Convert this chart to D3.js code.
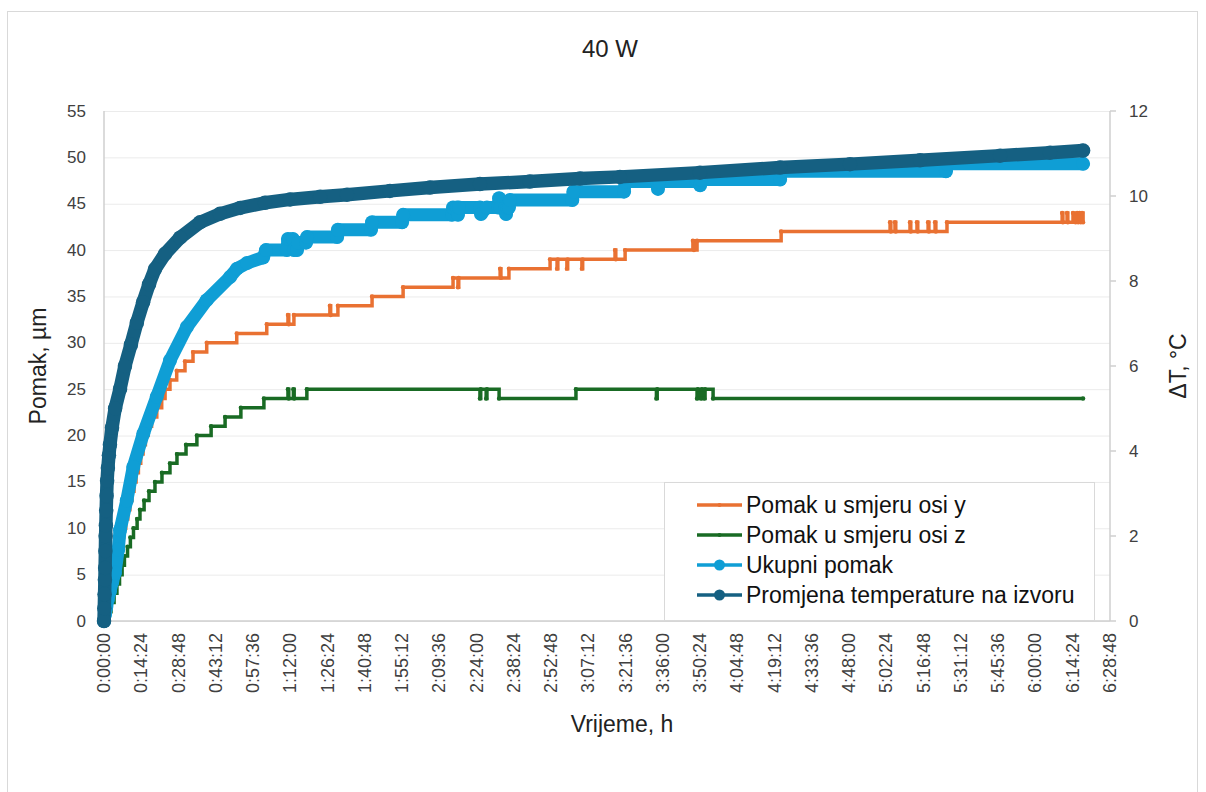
<!DOCTYPE html>
<html>
<head>
<meta charset="utf-8">
<script src="https://cdn.jsdelivr.net/npm/d3@7/dist/d3.min.js"></script>
<style>
  body { margin: 0; background: #fff; }
  svg text { font-family: "Liberation Sans", Arial, sans-serif; }
</style>
</head>
<body>
<svg id="chart" width="1206" height="792"></svg>
<script>
// time is in minutes from start
var xTicks = d3.range(0, 388.81, 14.4);
var leftTicks = d3.range(0, 56, 5);
var rightTicks = d3.range(0, 13, 2);

var seriesNames = ["Pomak u smjeru osi y", "Pomak u smjeru osi z", "Ukupni pomak", "Promjena temperature na izvoru"];

var posYTime = [0, 0.6, 1.3, 2.2, 3.2, 4.3, 5.0, 5.6, 6.2, 6.9, 7.6, 8.4, 9.2, 10.0, 10.8, 11.6, 12.4, 13.3, 14.2, 15.1, 16.0, 17.0, 18.4, 20.4, 22.3, 23.6, 25.5, 28.1, 31.3, 34.4, 39.7, 51.3, 62.9,
  71.1, 71.4, 73.4, 87.3, 87.6, 90.4, 103.6, 115.6, 134.9, 136.8, 137.1, 153.1, 153.4, 156.5, 172.4, 175.1, 175.4, 178.9, 179.2, 184.7, 185.0,
  197.5, 197.8, 201.4, 227.6, 228.0, 229.2, 261.7, 303.8, 304.1, 305.7, 306.0, 311.5, 311.8, 314.2, 314.5, 318.5, 318.8, 321.2, 321.5, 325.8,
  370.3, 370.6, 372.2, 372.5, 374.5, 375.5, 376.1, 376.5, 377.0, 377.5, 378.0, 378.4];
var posYVal = [0, 1, 2, 3, 4, 5, 6, 7, 8, 9, 10, 11, 12, 13, 14, 15, 16, 17, 18, 19, 20, 21, 22, 23, 24, 25, 26, 27, 28, 29, 30, 31, 32,
  33, 32, 33, 34, 33, 34, 35, 36, 37, 36, 37, 38, 37, 38, 39, 38, 39, 38, 39, 38, 39,
  40, 39, 40, 41, 40, 41, 42, 43, 42, 43, 42, 43, 42, 43, 42, 43, 42, 43, 42, 43,
  44, 43, 44, 43, 44, 43, 44, 43, 44, 43, 44, 43];

var posZTime = [0, 1.5, 2.7, 3.9, 5.0, 6.0, 7.0, 7.9, 9.1, 10.2, 11.4, 12.8, 13.9, 15.5, 17.4, 19.7, 22.4, 25.5, 28.2, 31.7, 35.9, 41.4, 46.8, 52.9, 61.8,
  71.1, 71.4, 73.2, 73.5, 78.4, 145.3, 145.6, 147.7, 148.0, 152.7, 182.4, 213.5, 213.8, 229.2, 229.5, 230.8, 231.1, 232.0, 232.3, 235.4, 378.4];
var posZVal = [0, 1, 2, 3, 4, 5, 6, 7, 8, 9, 10, 11, 12, 13, 14, 15, 16, 17, 18, 19, 20, 21, 22, 23, 24,
  25, 24, 25, 24, 25, 24, 25, 24, 25, 24, 25, 24, 25, 24, 25, 24, 25, 24, 25, 24, 24];

var totalTime = [0, 0.4, 0.9, 1.5, 2.3, 3.2, 4.25, 5.5, 6.2, 8.8, 11.3, 15.2, 20.4, 25.5, 32.0, 39.7, 48.7, 51.4, 55.3, 61.5, 62.6, 70.7, 71.1, 73.0, 73.4,
  74.6, 75.0, 78.1, 78.5, 90.1, 90.4, 103.2, 103.6, 115.2, 115.6, 134.5, 134.9, 136.4, 136.8, 137.2, 145.3, 145.7, 148.0, 152.3, 152.7, 153.1,
  155.0, 155.4, 155.8, 156.5, 156.9, 181.0, 181.4, 201.0, 201.4, 213.7, 214.1, 214.5, 228.8, 229.2, 230.4, 230.7, 261.3, 261.7, 325.4, 325.8, 378.4];
var totalVal = [0, 0.7, 1.5, 2.3, 3.2, 4.2, 5.2, 7.7, 9.8, 13.0, 16.6, 20.2, 24.2, 28.1, 31.7, 34.6, 37.1, 38.0, 38.6, 39.2, 40.0, 40.0, 41.2, 41.2, 40.0,
  40.0, 40.8, 40.8, 41.4, 41.4, 42.2, 42.2, 43.0, 43.0, 43.8, 43.8, 44.6, 44.6, 43.8, 44.6, 44.6, 43.9, 44.6, 44.6, 45.6, 44.6,
  44.6, 43.9, 44.6, 44.6, 45.4, 45.4, 46.3, 46.3, 47.4, 47.4, 46.6, 47.4, 47.4, 47.6, 47.0, 47.6, 47.6, 48.5, 48.5, 49.3, 49.3];

var tempTime = [0, 0.12, 0.23, 0.35, 0.43, 0.54, 0.62, 0.73, 0.85, 1.0, 1.2, 1.5, 1.9, 2.3, 3.1, 4.3, 6.2, 8.1, 10.4, 12.7, 15.1, 17.4,
  19.7, 23.6, 29.4, 37.1, 44.8, 52.6, 62.2, 71.9, 83.5, 93.9, 110.5, 126.0, 145.3, 164.6, 184.0, 199.4, 230.3, 261.3, 288.3,
  315.4, 346.3, 365.6, 378.4];
var tempVal = [0, 0.3, 0.63, 0.97, 1.25, 1.65, 2.0, 2.25, 2.6, 2.95, 3.3, 3.6, 3.9, 4.15, 4.55, 5.0, 5.46, 6.0, 6.5, 7.02, 7.5, 7.92,
  8.28, 8.64, 9.02, 9.38, 9.58, 9.72, 9.84, 9.92, 9.98, 10.03, 10.12, 10.2, 10.28, 10.34, 10.41, 10.45, 10.55, 10.67, 10.75,
  10.84, 10.95, 11.02, 11.07];

var colors = ["#E97132", "#196B24", "#0F9ED5", "#156082"];

function zip(t, v) {
  return t.map(function(d, i) { return {t: d, v: v[i]}; });
}

function fmtTime(m) {
  var s = Math.round(m * 60),
      h = Math.floor(s / 3600),
      mm = Math.floor((s % 3600) / 60),
      ss = s % 60;
  return h + ":" + d3.format("02d")(mm) + ":" + d3.format("02d")(ss);
}

var svg = d3.select("#chart");
var plotL = 104, plotR = 1110, plotT = 111, plotB = 621;

var x = d3.scaleLinear().domain([0, 388.8]).range([plotL, plotR]);
var y = d3.scaleLinear().domain([0, 55]).range([plotB, plotT]);
var y2 = d3.scaleLinear().domain([0, 12]).range([plotB, plotT]);

// chart frame
svg.append("rect")
  .attr("x", 7.5).attr("y", 11.5).attr("width", 1190).attr("height", 800)
  .attr("fill", "#fff").attr("stroke", "#d9d9d9");

svg.append("text")
  .attr("x", 610).attr("y", 48)
  .attr("text-anchor", "middle").attr("dominant-baseline", "central")
  .attr("font-size", 24).attr("fill", "#222")
  .text("40 W");

// gridlines
svg.append("g").selectAll("line").data(leftTicks).enter().append("line")
  .attr("x1", plotL).attr("x2", plotR)
  .attr("y1", function(d) { return y(d) + 0.5; }).attr("y2", function(d) { return y(d) + 0.5; })
  .attr("stroke", "#ebebeb").attr("stroke-width", 1);

// axes
var axes = svg.append("g").attr("stroke", "#cfcfcf").attr("stroke-width", 1.5);
axes.append("line").attr("x1", plotL).attr("x2", plotL).attr("y1", plotT).attr("y2", plotB);
axes.append("line").attr("x1", plotL).attr("x2", plotR).attr("y1", plotB).attr("y2", plotB);
axes.append("line").attr("x1", plotR).attr("x2", plotR).attr("y1", plotT).attr("y2", plotB);
axes.selectAll(".rt").data(rightTicks).enter().append("line")
  .attr("x1", plotR).attr("x2", plotR + 6)
  .attr("y1", function(d) { return y2(d); }).attr("y2", function(d) { return y2(d); });

svg.append("g").selectAll("text").data(leftTicks).enter().append("text")
  .attr("x", 86).attr("y", function(d) { return y(d); })
  .attr("text-anchor", "end").attr("dominant-baseline", "central")
  .attr("font-size", 17).attr("fill", "#404040")
  .text(function(d) { return d; });

svg.append("g").selectAll("text").data(rightTicks).enter().append("text")
  .attr("x", 1129).attr("y", function(d) { return y2(d); })
  .attr("dominant-baseline", "central")
  .attr("font-size", 17).attr("fill", "#404040")
  .text(function(d) { return d; });

svg.append("g").selectAll("text").data(xTicks).enter().append("text")
  .attr("transform", function(d) { return "translate(" + x(d) + ",633) rotate(-90)"; })
  .attr("text-anchor", "end").attr("dominant-baseline", "central")
  .attr("font-size", 18).attr("fill", "#404040")
  .text(fmtTime);

svg.append("text")
  .attr("transform", "translate(38,366) rotate(-90)")
  .attr("text-anchor", "middle").attr("dominant-baseline", "central")
  .attr("font-size", 23).attr("fill", "#222")
  .text("Pomak, µm");

svg.append("text")
  .attr("transform", "translate(1178,366) rotate(-90)")
  .attr("text-anchor", "middle").attr("dominant-baseline", "central")
  .attr("font-size", 23).attr("fill", "#222")
  .text("ΔT, °C");

svg.append("text")
  .attr("x", 622).attr("y", 724)
  .attr("text-anchor", "middle").attr("dominant-baseline", "central")
  .attr("font-size", 23).attr("fill", "#222")
  .text("Vrijeme, h");

// series
var plot = svg.append("g");

function stepSeries(data, color) {
  var line = d3.line().curve(d3.curveStepAfter)
    .x(function(d) { return x(d.t); }).y(function(d) { return y(d.v); });
  plot.append("path").datum(data)
    .attr("d", line).attr("fill", "none")
    .attr("stroke", color).attr("stroke-width", 3.5);
  plot.append("g").selectAll("circle").data(data).enter().append("circle")
    .attr("cx", function(d) { return x(d.t); }).attr("cy", function(d) { return y(d.v); })
    .attr("r", 2.2).attr("fill", color);
}

function dotSeries(data, color, ys, w) {
  var line = d3.line()
    .x(function(d) { return x(d.t); }).y(function(d) { return ys(d.v); });
  plot.append("path").datum(data)
    .attr("d", line).attr("fill", "none")
    .attr("stroke", color).attr("stroke-width", w)
    .attr("stroke-linejoin", "round").attr("stroke-linecap", "round");
  plot.append("g").selectAll("circle").data(data).enter().append("circle")
    .attr("cx", function(d) { return x(d.t); }).attr("cy", function(d) { return ys(d.v); })
    .attr("r", w / 2 + 0.5).attr("fill", color);
}

stepSeries(zip(posYTime, posYVal), colors[0]);
stepSeries(zip(posZTime, posZVal), colors[1]);
dotSeries(zip(totalTime, totalVal), colors[2], y, 13);
dotSeries(zip(tempTime, tempVal), colors[3], y2, 13.5);

// legend
var lg = svg.append("g");
lg.append("rect")
  .attr("x", 664.5).attr("y", 482.5).attr("width", 430).attr("height", 138)
  .attr("fill", "#fff").attr("stroke", "#d9d9d9");

var rows = lg.selectAll(".row").data(seriesNames).enter().append("g")
  .attr("transform", function(d, i) { return "translate(0," + (505 + i * 30) + ")"; });
rows.append("line")
  .attr("x1", 697).attr("x2", 742).attr("y1", 0).attr("y2", 0)
  .attr("stroke", function(d, i) { return colors[i]; }).attr("stroke-width", 3.5);
rows.append("circle")
  .attr("cx", 719.5).attr("cy", 0)
  .attr("r", function(d, i) { return i < 2 ? 2 : 5.5; })
  .attr("fill", function(d, i) { return colors[i]; });
rows.append("text")
  .attr("x", 746).attr("y", 0)
  .attr("dominant-baseline", "central")
  .attr("font-size", 23).attr("fill", "#111")
  .text(function(d) { return d; });
</script>
</body>
</html>
